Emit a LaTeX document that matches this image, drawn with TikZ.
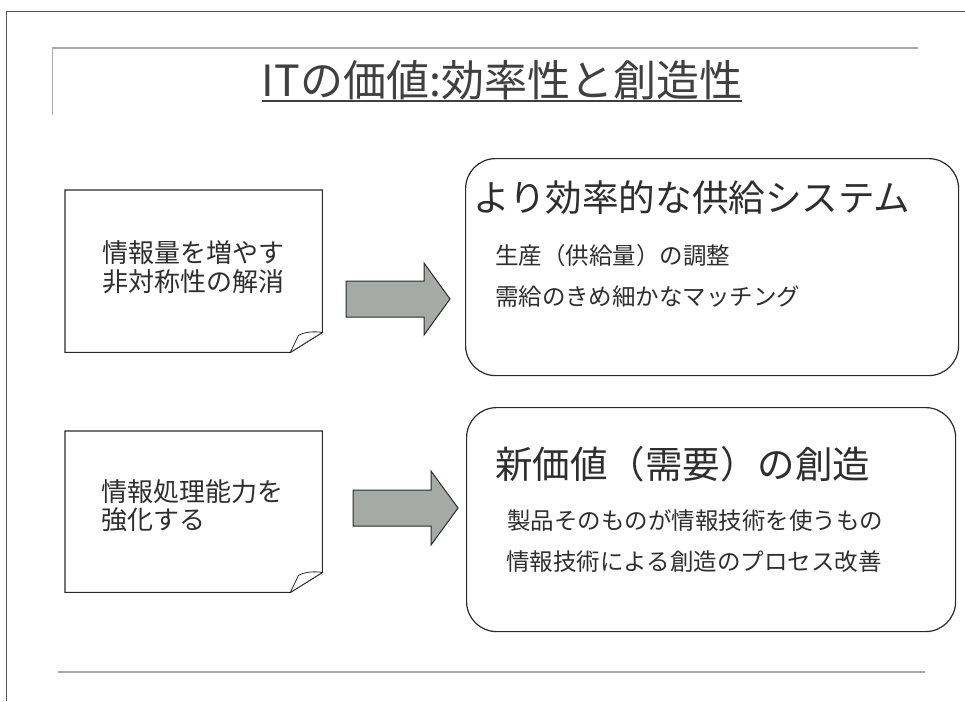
\documentclass[tikz,border=0pt]{standalone}
\usepackage{fontspec}
\setmainfont{Noto Sans CJK JP}
\definecolor{txtcol}{HTML}{2E2E2E}
\definecolor{titlecol}{HTML}{404040}
\definecolor{linecol}{HTML}{2A2A2A}
\definecolor{rulecol}{HTML}{A8A8A8}
\definecolor{arrowfill}{HTML}{A6AAA6}
\begin{document}
\begin{tikzpicture}[x=1pt,y=-1pt,
  txt/.style={inner sep=0pt, anchor=west, text=txtcol, text height=0.88em, text depth=0.12em},
  notetxt/.style={txt, font=\fontsize{26}{26}\selectfont},
  headtxt/.style={txt, font=\fontsize{36.6}{36.6}\selectfont},
  subtxt/.style={txt, font=\fontsize{23.5}{23.5}\selectfont},
  notebox/.style={inner sep=0pt, anchor=north west},
  notepath/.style={draw=linecol, line width=1.1pt, fill=white},
  bigbox/.style={draw=linecol, line width=1.2pt, rounded corners=30pt, inner sep=0pt, anchor=north west},
  blockarrow/.style={draw=linecol, line width=1pt, fill=arrowfill},
  rule/.style={draw=rulecol, line width=1.6pt}]
\useasboundingbox (0,0) rectangle (965,701);
% page frame
\draw[draw=linecol!80, line width=1pt] (6,701) -- (6,12) -- (965,12);
% rules
\draw[rule] (52,48) -- (918,48);
\draw[draw=rulecol, line width=0.8pt] (52,48) -- (52,115);
\draw[rule] (58,672) -- (925,672);
% title
\node[txt, anchor=center, text=titlecol, font=\fontsize{43}{43}\selectfont] (title) at (502,93) {ITの価値:効率性と創造性};
\draw[draw=titlecol, line width=1.5pt] ([yshift=-3pt]title.south west) -- ([yshift=-3pt]title.south east);
% note 1
\node[notebox, minimum width=257pt, minimum height=162pt] (n1) at (65,190) {};
\draw[notepath] (n1.north west) -- (n1.north east) -- ([yshift=20pt]n1.south east) -- ([xshift=-32pt]n1.south east) -- (n1.south west) -- cycle;
\draw[notepath, line width=0.8pt] ([xshift=-32pt]n1.south east) -- ([xshift=-24pt,yshift=17pt]n1.south east) .. controls ([xshift=-16pt,yshift=21pt]n1.south east) and ([xshift=-8pt,yshift=21pt]n1.south east) .. ([yshift=20pt]n1.south east) -- cycle;
\node[notetxt] (n1a) at (102,259) {情報量を増やす};
\node[notetxt] (n1b) at (102,288) {非対称性の解消};
% note 2
\node[notebox, minimum width=257pt, minimum height=161pt] (n2) at (65,431) {};
\draw[notepath] (n2.north west) -- (n2.north east) -- ([yshift=20pt]n2.south east) -- ([xshift=-32pt]n2.south east) -- (n2.south west) -- cycle;
\draw[notepath, line width=0.8pt] ([xshift=-32pt]n2.south east) -- ([xshift=-24pt,yshift=17pt]n2.south east) .. controls ([xshift=-16pt,yshift=21pt]n2.south east) and ([xshift=-8pt,yshift=21pt]n2.south east) .. ([yshift=20pt]n2.south east) -- cycle;
\node[notetxt] (n2a) at (101,498) {情報処理能力を};
\node[notetxt] (n2b) at (101,526) {強化する};
% big boxes
\node[bigbox, minimum width=493pt, minimum height=217pt] (b1) at (465,158) {};
\node[headtxt] (b1t) at (473,208) {より効率的な供給システム};
\node[subtxt] (b1a) at (495,261) {生産（供給量）の調整};
\node[subtxt] (b1b) at (495,302) {需給のきめ細かなマッチング};
\node[bigbox, minimum width=489pt, minimum height=224pt] (b2) at (466,407) {};
\node[headtxt, font=\fontsize{37.5}{37.5}\selectfont] (b2t) at (495,475) {新価値（需要）の創造};
\node[subtxt] (b2a) at (507,526) {製品そのものが情報技術を使うもの};
\node[subtxt] (b2b) at (506,567) {情報技術による創造のプロセス改善};
% block arrows
\draw[blockarrow] (346,281) -- (424,281) -- (424,263) -- (450,299) -- (424,335) -- (424,317) -- (346,317) -- cycle;
\draw[blockarrow] (353,490) -- (431,490) -- (431,471) -- (458,508) -- (431,545) -- (431,526) -- (353,526) -- cycle;
\end{tikzpicture}
\end{document}
